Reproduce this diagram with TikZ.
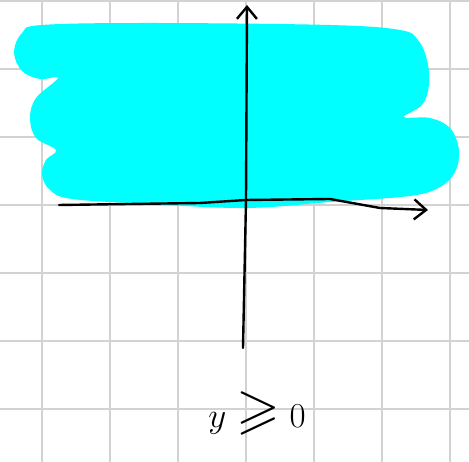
\documentclass[tikz,border=0pt]{standalone}
\usepackage{amsmath}
\usepackage{amssymb}
\usepackage{tikz}
\usetikzlibrary{arrows.meta}
\definecolor{marker}{RGB}{0,255,255}
\definecolor{gridgray}{RGB}{210,210,210}

\begin{document}
\begin{tikzpicture}[
    x=0.25mm, y=-0.25mm,
    gridline/.style={draw=gridgray, line width=0.5mm},
    axis/.style={draw=black, line width=0.6mm, line cap=round, line join=round},
    tip/.style={-{Straight Barb[length=3mm, width=5mm]}},
    label/.style={font=\fontsize{40}{42}\selectfont, anchor=base}
]
    % ============ Squared paper ============
    \fill[white] (0,0) rectangle (469,462);
    \useasboundingbox (0,0) rectangle (469,462);
    \foreach \k in {0,...,6} {
        \draw[gridline] ({41.7+68*\k},0) -- ({41.7+68*\k},462);
        \draw[gridline] (0,{1+68*\k}) -- (469,{1+68*\k});
    }

    % ============ Shaded half plane ============
    \fill[marker] plot[smooth cycle, tension=0.6] coordinates {
        (42,25) (150,23) (330,25) (400,30) (418,40) (427,60) (429,85) (422,105) (404,117)
        (430,118) (450,128) (459,150) (455,172) (440,187) (410,196)
        (330,202) (246,208) (150,204) (72,199) (50,190) (42,175) (46,160) (56,150)
        (36,138) (30,118) (36,98) (58,78)
        (40,79) (22,71) (14,52) (22,33)
    };

    % ============ Axes ============
    \coordinate (O) at (246,200);
    \coordinate (xstart) at (59,205);
    \coordinate (xend) at (428,210);
    \coordinate (ystart) at (243,348);
    \coordinate (yend) at (247,5);

    \draw[axis, tip] (xstart) -- (200,203) -- (O) -- (330,199) -- (380,208) -- (xend);
    \draw[axis, tip] (ystart) -- (O) -- (yend);

    % ============ Label ============
    \node[label] (ineq) at (257,428) {$y \geqslant 0$};
\end{tikzpicture}
\end{document}
